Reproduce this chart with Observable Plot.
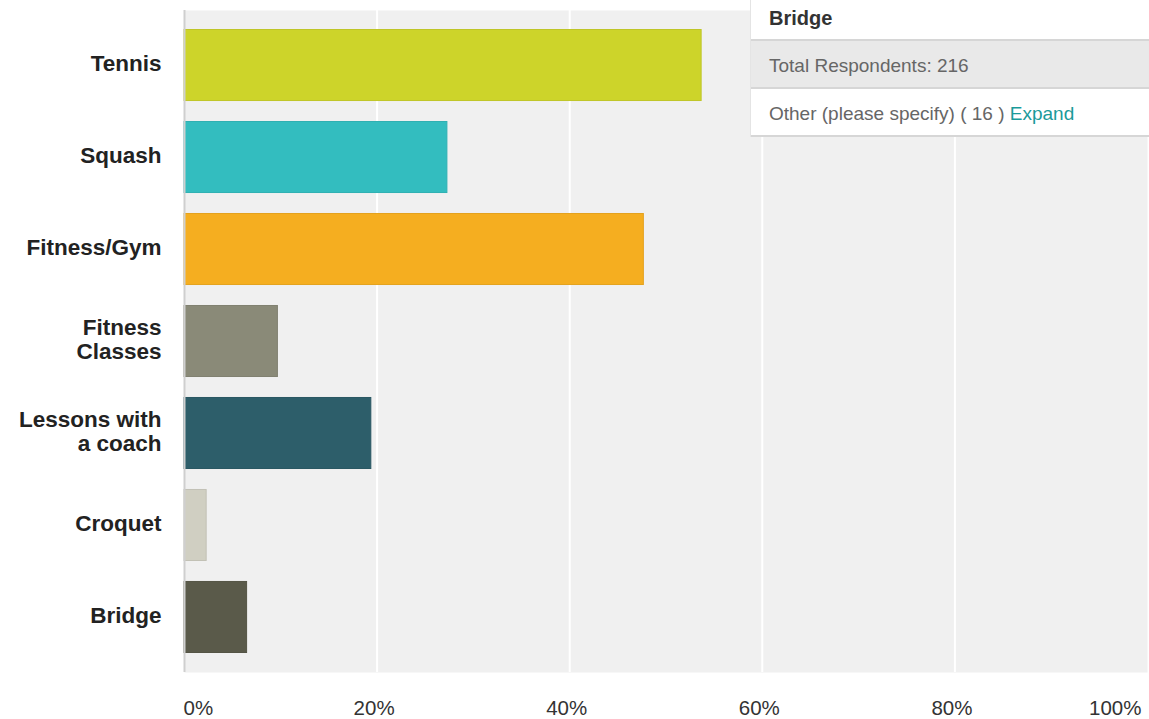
<!DOCTYPE html>
<html>
<head>
<meta charset="utf-8">
<script src="https://cdn.jsdelivr.net/npm/d3@7"></script>
<script src="https://cdn.jsdelivr.net/npm/@observablehq/plot@0.6"></script>
<style>
  html, body { margin: 0; padding: 0; background: #fff; }
  #wrap { position: relative; width: 1149px; height: 719px; font-family: "Liberation Sans", Arial, sans-serif; }
  #box { position: absolute; left: 750px; top: 0; width: 399px; background: #fff; border-left: 1px solid #e4e4e4; }
  #box .row { box-sizing: border-box; padding-left: 18px; border-bottom: 2px solid #d6d6d6; }
  #box .h { height: 41px; line-height: 36px; font-weight: bold; font-size: 20px; color: #333; }
  #box .g { height: 48px; line-height: 50px; background: #e9e9e9; font-size: 19px; color: #666; }
  #box .o { height: 48px; line-height: 50px; font-size: 19px; color: #666; }
  #box .o span { color: #1a9a9a; }
</style>
</head>
<body>
<div id="wrap">
  <div id="chart"></div>
  <div id="box">
    <div class="row h" id="hdr"></div>
    <div class="row g" id="tot"></div>
    <div class="row o" id="oth"></div>
  </div>
</div>
<script>
const categories = ["Tennis", "Squash", "Fitness/Gym", "Fitness Classes", "Lessons with a coach", "Croquet", "Bridge"];
const labels = ["Tennis", "Squash", "Fitness/Gym", "Fitness\nClasses", "Lessons with\na coach", "Croquet", "Bridge"];
const percents = [53.7, 27.3, 47.7, 9.7, 19.4, 2.3, 6.5];
const colors = ["#cdd42a", "#33bdbf", "#f5ae20", "#8a8a78", "#2d5e6a", "#d0cfc2", "#5a5a4a"];
const xTicks = [0, 20, 40, 60, 80, 100];
const totalRespondents = 216;
const otherCount = 16;

const data = categories.map((c, i) => ({
  category: c, value: percents[i], color: colors[i],
  edge: d3.color(colors[i]).darker(0.2).formatHex()
}));
const labelOf = new Map(categories.map((c, i) => [c, labels[i]]));

const chart = Plot.plot({
  width: 1149,
  height: 719,
  marginLeft: 184,
  marginRight: 2,
  marginTop: 10,
  marginBottom: 47,
  style: {fontFamily: "Liberation Sans, Arial, sans-serif", background: "#fff"},
  x: {domain: [0, 100], axis: null, label: null},
  y: {domain: categories, paddingInner: 0.228, paddingOuter: 0.212, round: false, axis: null, label: null},
  marks: [
    Plot.frame({fill: "#f0f0f0", stroke: null}),
    Plot.ruleX(xTicks.slice(1, -1), {stroke: "#fff", strokeWidth: 2}),
    Plot.barX(data, {y: "category", x: "value", fill: d => d.color, stroke: d => d.edge, strokeWidth: 1}),
    Plot.ruleX([0], {stroke: "#cfcfcf", strokeWidth: 2}),
    Plot.ruleY([0], {frameAnchor: "bottom", stroke: "#dcdcdc", strokeWidth: 3}),
    Plot.axisY({tickSize: 0, tickPadding: 23, fontSize: 22.5, fontWeight: "bold", fill: "#222", lineHeight: 1.06, dy: -2, label: null, tickFormat: d => labelOf.get(d)}),
    Plot.axisX(xTicks.slice(0, 1), {tickSize: 0, tickPadding: 28, fontSize: 20.5, fill: "#333", textAnchor: "start", dx: -1, label: null, tickFormat: d => d + "%"}),
    Plot.axisX(xTicks.slice(1, -1), {tickSize: 0, tickPadding: 28, fontSize: 20.5, fill: "#333", dx: -3, label: null, tickFormat: d => d + "%"}),
    Plot.axisX(xTicks.slice(-1), {tickSize: 0, tickPadding: 28, fontSize: 20.5, fill: "#333", textAnchor: "end", dx: -6, label: null, tickFormat: d => d + "%"})
  ]
});
document.getElementById("chart").appendChild(chart);

document.getElementById("hdr").textContent = categories[categories.length - 1];
document.getElementById("tot").textContent = "Total Respondents: " + totalRespondents;
document.getElementById("oth").innerHTML = "Other (please specify) ( " + otherCount + " ) <span>Expand</span>";
</script>
</body>
</html>
